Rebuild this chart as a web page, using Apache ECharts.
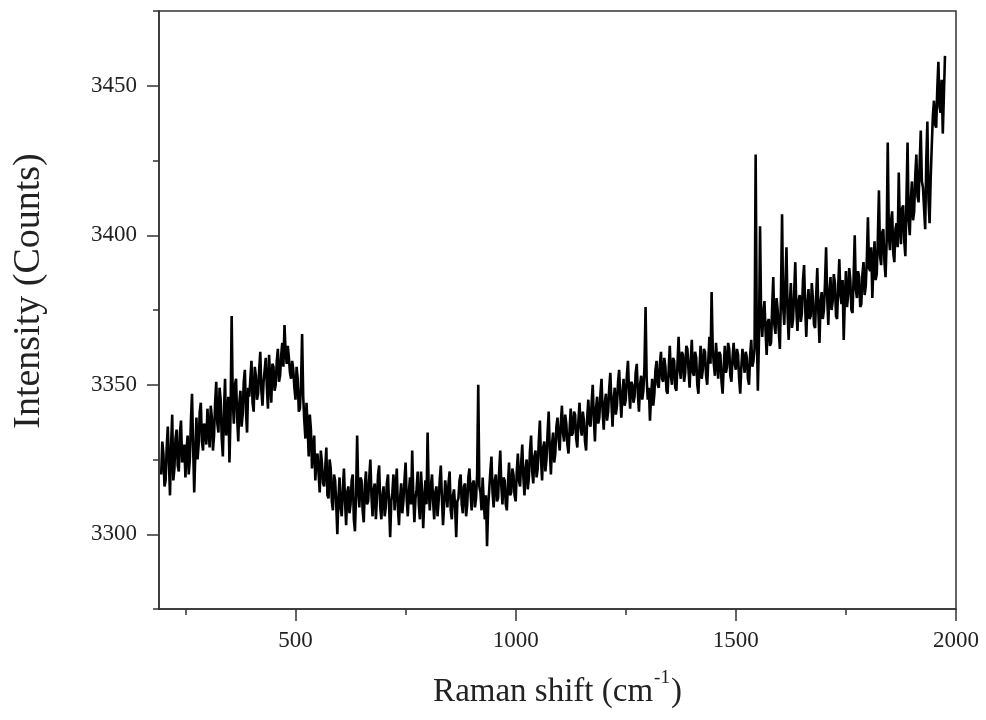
<!DOCTYPE html>
<html>
<head>
<meta charset="utf-8">
<title>Raman spectrum</title>
<script src="https://cdn.jsdelivr.net/npm/echarts@6/dist/echarts.min.js"></script>
<style>
  html, body { margin: 0; padding: 0; background: #ffffff; }
  #chart { width: 986px; height: 720px; }
</style>
</head>
<body>
<div id="chart"></div>
<script>
// Raman shift grid (cm^-1): first channel and channel spacing
const shiftStart = 195;
const shiftStep = 2.5;

// Measured intensity (counts), one value per channel from 195 to 1975 cm^-1
const intensity = [
  3320, 3331, 3327, 3316, 3318, 3329, 3336, 3324, 3313, 3330, 3340, 3318, 3322, 3332, 3335, 3323, 3321, 3334, 3338, 3324,
  3326, 3330, 3319, 3328, 3333, 3320, 3325, 3338, 3347, 3329, 3314, 3327, 3339, 3325, 3330, 3341, 3344, 3331, 3328, 3337,
  3336, 3330, 3342, 3335, 3329, 3343, 3339, 3328, 3333, 3344, 3351, 3337, 3334, 3349, 3345, 3332, 3326, 3341, 3352, 3333,
  3338, 3346, 3324, 3340, 3373, 3345, 3337, 3350, 3352, 3339, 3331, 3344, 3348, 3336, 3340, 3351, 3355, 3341, 3334, 3349,
  3346, 3352, 3358, 3344, 3341, 3356, 3353, 3345, 3347, 3355, 3361, 3348, 3343, 3351, 3355, 3359, 3349, 3342, 3360, 3351,
  3344, 3357, 3356, 3348, 3350, 3358, 3362, 3351, 3353, 3360, 3364, 3356, 3370, 3361, 3357, 3363, 3359, 3354, 3352, 3358,
  3355, 3349, 3345, 3356, 3352, 3341, 3342, 3350, 3367, 3346, 3338, 3332, 3344, 3336, 3326, 3340, 3335, 3322, 3329, 3333,
  3318, 3325, 3327, 3320, 3314, 3328, 3324, 3317, 3316, 3322, 3329, 3313, 3312, 3325, 3322, 3311, 3308, 3320, 3318, 3310,
  3300, 3312, 3319, 3309, 3306, 3315, 3322, 3311, 3303, 3314, 3316, 3307, 3310, 3318, 3320, 3305, 3301, 3313, 3333, 3315,
  3309, 3319, 3318, 3308, 3304, 3316, 3321, 3310, 3311, 3319, 3325, 3313, 3306, 3315, 3317, 3305, 3312, 3320, 3323, 3309,
  3305, 3313, 3316, 3306, 3309, 3317, 3320, 3310, 3299, 3311, 3314, 3320, 3308, 3315, 3322, 3309, 3303, 3312, 3317, 3307,
  3311, 3318, 3324, 3312, 3306, 3314, 3319, 3310, 3328, 3313, 3304, 3312, 3315, 3321, 3310, 3305, 3321, 3314, 3302, 3311,
  3318, 3310, 3334, 3315, 3308, 3316, 3320, 3311, 3305, 3314, 3316, 3306, 3311, 3318, 3323, 3312, 3303, 3310, 3318, 3314,
  3309, 3317, 3321, 3308, 3305, 3313, 3315, 3309, 3299, 3311, 3312, 3318, 3320, 3310, 3307, 3316, 3317, 3306, 3310, 3319,
  3322, 3314, 3308, 3317, 3318, 3309, 3312, 3320, 3350, 3316, 3314, 3308, 3319, 3311, 3305, 3313, 3296, 3309, 3315, 3321,
  3326, 3314, 3309, 3318, 3320, 3311, 3312, 3321, 3328, 3316, 3310, 3319, 3318, 3310, 3308, 3317, 3324, 3313, 3314, 3322,
  3320, 3313, 3311, 3321, 3327, 3318, 3316, 3324, 3330, 3319, 3313, 3322, 3325, 3315, 3319, 3328, 3333, 3321, 3317, 3326,
  3328, 3319, 3322, 3331, 3338, 3325, 3318, 3329, 3331, 3321, 3325, 3334, 3341, 3328, 3320, 3330, 3334, 3324, 3327, 3336,
  3339, 3332, 3328, 3337, 3343, 3334, 3331, 3340, 3337, 3330, 3327, 3335, 3342, 3333, 3334, 3341, 3340, 3332, 3329, 3338,
  3344, 3336, 3333, 3341, 3338, 3331, 3328, 3339, 3345, 3337, 3336, 3344, 3350, 3339, 3331, 3342, 3346, 3337, 3339, 3347,
  3352, 3341, 3335, 3344, 3347, 3338, 3341, 3349, 3354, 3344, 3336, 3345, 3349, 3340, 3343, 3351, 3355, 3346, 3339, 3347,
  3352, 3343, 3345, 3353, 3358, 3348, 3342, 3351, 3350, 3344, 3346, 3354, 3357, 3347, 3341, 3350, 3353, 3345, 3348, 3356,
  3376, 3352, 3345, 3349, 3338, 3346, 3352, 3343, 3347, 3355, 3358, 3350, 3349, 3357, 3361, 3352, 3351, 3359, 3356, 3348,
  3347, 3355, 3363, 3353, 3350, 3359, 3358, 3349, 3348, 3357, 3366, 3355, 3352, 3361, 3360, 3351, 3354, 3363, 3362, 3355,
  3349, 3358, 3365, 3354, 3353, 3361, 3359, 3350, 3347, 3356, 3363, 3352, 3355, 3362, 3361, 3353, 3350, 3358, 3366, 3357,
  3381, 3362, 3357, 3353, 3364, 3358, 3352, 3361, 3360, 3351, 3347, 3356, 3363, 3354, 3356, 3364, 3362, 3353, 3351, 3359,
  3364, 3357, 3355, 3362, 3360, 3352, 3347, 3356, 3362, 3358, 3354, 3361, 3359, 3352, 3350, 3360, 3365, 3356, 3358, 3362,
  3427, 3370, 3348, 3365, 3403, 3372, 3366, 3374, 3378, 3368, 3360, 3371, 3372, 3363, 3364, 3376, 3386, 3370, 3367, 3379,
  3375, 3368, 3362, 3380, 3407, 3376, 3370, 3383, 3396, 3374, 3365, 3377, 3384, 3369, 3372, 3381, 3391, 3375, 3368, 3378,
  3380, 3371, 3374, 3385, 3390, 3376, 3366, 3377, 3382, 3372, 3373, 3384, 3379, 3370, 3369, 3380, 3389, 3374, 3364, 3378,
  3381, 3372, 3375, 3384, 3396, 3379, 3370, 3381, 3386, 3375, 3378, 3387, 3384, 3373, 3372, 3383, 3392, 3380, 3377, 3385,
  3365, 3378, 3388, 3376, 3380, 3389, 3385, 3375, 3374, 3386, 3400, 3382, 3379, 3388, 3386, 3376, 3377, 3387, 3391, 3380,
  3383, 3392, 3406, 3389, 3388, 3396, 3379, 3390, 3398, 3385, 3387, 3399, 3415, 3393, 3390, 3401, 3402, 3391, 3386, 3398,
  3431, 3400, 3395, 3405, 3408, 3394, 3391, 3402, 3404, 3396, 3421, 3403, 3397, 3409, 3410, 3398, 3393, 3412, 3431, 3405,
  3400, 3412, 3418, 3405, 3408, 3420, 3427, 3413, 3411, 3424, 3435, 3418, 3416, 3409, 3402, 3425, 3438, 3412, 3404, 3419,
  3430, 3440, 3445, 3437, 3436, 3449, 3458, 3443, 3441, 3452, 3434, 3447, 3460
];

// Axis ranges and tick positions
const shiftRange = [190, 2000];
const countRange = [3275, 3475];
const shiftMajorTicks = [500, 1000, 1500, 2000];
const shiftMinorTicks = [250, 750, 1250, 1750];
const countMajorTicks = [3300, 3350, 3400, 3450];
const countMinorTicks = [3275, 3325, 3375, 3425, 3475];

const spectrum = intensity.map((v, i) => [shiftStart + i * shiftStep, v]);

const serif = "'Liberation Serif', 'Times New Roman', serif";
const axisColor = '#333333';
const textColor = '#222222';
const plainNumber = (v) => String(v);

const chart = echarts.init(document.getElementById('chart'), null, { renderer: 'canvas' });

chart.setOption({
  animation: false,
  backgroundColor: '#ffffff',
  grid: {
    left: 159, right: 30, top: 11, bottom: 111,
    show: true, borderColor: axisColor, borderWidth: 1.5, backgroundColor: 'transparent'
  },
  xAxis: [
    {
      type: 'value', position: 'bottom', min: shiftRange[0], max: shiftRange[1],
      axisLine: { show: true, onZero: false, lineStyle: { color: axisColor, width: 1.5 } },
      axisTick: { show: true, inside: false, length: 12, customValues: shiftMajorTicks, lineStyle: { color: axisColor, width: 1.5 } },
      axisLabel: { show: true, customValues: shiftMajorTicks, formatter: plainNumber, margin: 20, fontFamily: serif, fontSize: 23, color: textColor },
      splitLine: { show: false },
      name: '{t|Raman shift (cm}{s|-1}{t|)}',
      nameLocation: 'middle', nameGap: 60,
      nameTextStyle: {
        rich: {
          t: { fontFamily: serif, fontSize: 33, color: textColor, lineHeight: 40, verticalAlign: 'bottom' },
          s: { fontFamily: serif, fontSize: 19, color: textColor, lineHeight: 40, verticalAlign: 'top', padding: [0, 1, 0, 1] }
        }
      }
    },
    {
      type: 'value', position: 'bottom', min: shiftRange[0], max: shiftRange[1],
      axisLine: { show: false, onZero: false },
      axisTick: { show: true, inside: false, length: 6, customValues: shiftMinorTicks, lineStyle: { color: axisColor, width: 1.5 } },
      axisLabel: { show: false },
      splitLine: { show: false }
    }
  ],
  yAxis: [
    {
      type: 'value', position: 'left', min: countRange[0], max: countRange[1],
      axisLine: { show: true, onZero: false, lineStyle: { color: axisColor, width: 1.5 } },
      axisTick: { show: true, inside: false, length: 12, customValues: countMajorTicks, lineStyle: { color: axisColor, width: 1.5 } },
      axisLabel: { show: true, customValues: countMajorTicks, formatter: plainNumber, margin: 22, fontFamily: serif, fontSize: 23, color: textColor },
      splitLine: { show: false },
      name: 'Intensity (Counts)',
      nameLocation: 'middle', nameGap: 111, nameRotate: 90,
      nameTextStyle: { fontFamily: serif, fontSize: 38, color: textColor, padding: [0, 0, 0, 38] }
    },
    {
      type: 'value', position: 'left', min: countRange[0], max: countRange[1],
      axisLine: { show: false, onZero: false },
      axisTick: { show: true, inside: false, length: 6, customValues: countMinorTicks, lineStyle: { color: axisColor, width: 1.5 } },
      axisLabel: { show: false },
      splitLine: { show: false }
    }
  ],
  series: [
    {
      type: 'line',
      xAxisIndex: 0, yAxisIndex: 0,
      data: spectrum,
      showSymbol: false,
      symbol: 'none',
      lineStyle: { color: '#000000', width: 2.6, join: 'bevel' },
      clip: true
    }
  ]
});
</script>
</body>
</html>
